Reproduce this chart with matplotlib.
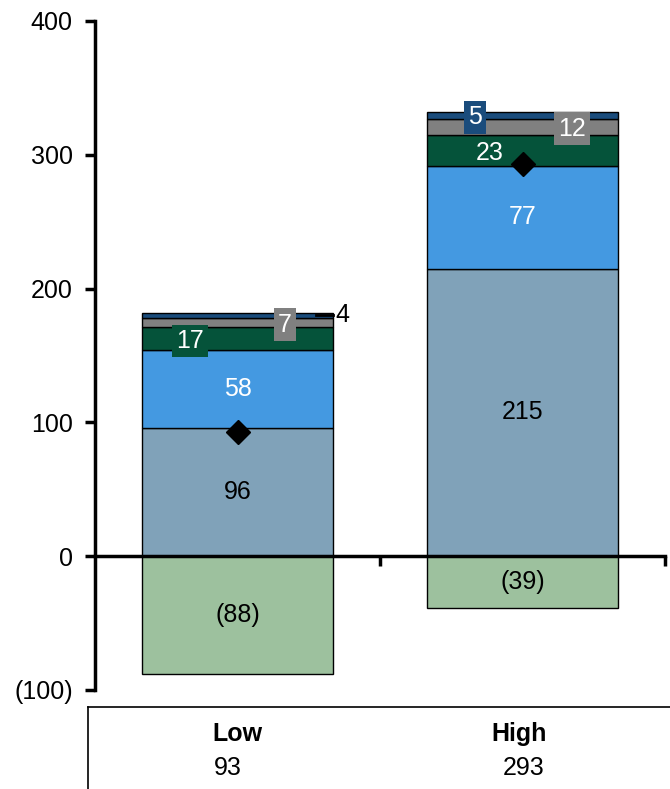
import matplotlib
matplotlib.use("Agg")
import matplotlib.pyplot as plt
import matplotlib.transforms as mtransforms

plt.rcParams['font.family'] = ['Liberation Sans', 'DejaVu Sans']

# Scenario data
categories = ["Low", "High"]
totals = [93, 293]
base_vals = [96, 215]
blue_vals = [58, 77]
green_vals = [17, 23]
grey_vals = [7, 12]
navy_vals = [4, 5]
neg_vals = [-88, -39]

segments = [
    (base_vals, "#80A2B9", "black"),
    (blue_vals, "#4499E1", "white"),
    (green_vals, "#05533A", "white"),
    (grey_vals, "#808080", "white"),
    (navy_vals, "#1A4C7C", "white"),
]

fig = plt.figure(figsize=(6.7, 7.89), dpi=100)
ax = fig.add_axes([95 / 670, 99 / 789, 570 / 670, 669 / 789])

xpos = [0.5, 1.5]
width = 0.667
fs = 18

bottoms = [0, 0]
seg_bounds = []
for vals, color, tcolor in segments:
    ax.bar(xpos, vals, width, bottom=bottoms, color=color,
           edgecolor="black", linewidth=1.0, zorder=2)
    seg_bounds.append([(b, b + v) for b, v in zip(bottoms, vals)])
    bottoms = [b + v for b, v in zip(bottoms, vals)]

ax.bar(xpos, neg_vals, width, color="#9DC19E", edgecolor="black",
       linewidth=1.0, zorder=2)

def mid(seg, i):
    lo, hi = seg_bounds[seg][i]
    return (lo + hi) / 2

# Large segment labels, centred in the bars
for i, x in enumerate(xpos):
    ax.text(x, mid(0, i), f"{base_vals[i]}", ha="center", va="center",
            fontsize=fs, color="black", zorder=4)
    ax.text(x, mid(1, i), f"{blue_vals[i]}", ha="center", va="center",
            fontsize=fs, color="white", zorder=4)
    ax.text(x, neg_vals[i] / 2, f"({abs(neg_vals[i])})", ha="center",
            va="center", fontsize=fs, color="black", zorder=4)

# Small segment labels (boxed, offset horizontally)
box = dict(boxstyle="square,pad=0.17", linewidth=0)
ax.text(xpos[0] - 0.167, mid(2, 0) - 1.5, f"{green_vals[0]}", ha="center",
        va="center", fontsize=fs, color="white", zorder=5,
        bbox=dict(box, facecolor=segments[2][1]))
ax.text(xpos[1] - 0.114, mid(2, 1) - 2, f"{green_vals[1]}", ha="center",
        va="center", fontsize=fs, color="white", zorder=5)
ax.text(xpos[0] + 0.167, mid(3, 0) - 1.5, f"{grey_vals[0]}", ha="center",
        va="center", fontsize=fs, color="white", zorder=5,
        bbox=dict(box, facecolor=segments[3][1]))
ax.text(xpos[1] + 0.174, mid(3, 1) - 1.5, f"{grey_vals[1]}", ha="center",
        va="center", fontsize=fs, color="white", zorder=5,
        bbox=dict(box, facecolor=segments[3][1]))
ax.text(xpos[1] - 0.167, mid(4, 1) - 1.5, f"{navy_vals[1]}", ha="center",
        va="center", fontsize=fs, color="white", zorder=5,
        bbox=dict(box, facecolor=segments[4][1]))

# Leader line for the thin top segment of the first bar
y4 = seg_bounds[4][0][1] - 1.5
ax.plot([0.775, 0.835], [y4, y4], color="black", linewidth=2, zorder=5,
        clip_on=False)
ax.text(0.845, y4, f"{navy_vals[0]}", ha="left", va="center",
        fontsize=fs, color="black", zorder=5)

# Total markers
ax.plot(xpos, totals, linestyle="none", marker="D", markersize=12,
        color="black", zorder=6)

ax.set_xlim(0, 2)
ax.set_ylim(-100, 400)
ax.set_yticks([-100, 0, 100, 200, 300, 400])
ax.set_yticklabels(["(100)", "0", "100", "200", "300", "400"])
ax.set_xticks([1, 2])
ax.set_xticklabels([])

for side in ("top", "right"):
    ax.spines[side].set_visible(False)
ax.spines["bottom"].set_position(("data", 0))
ax.spines["left"].set_linewidth(2.5)
ax.spines["bottom"].set_linewidth(2.5)
ax.spines["bottom"].set_zorder(3)
ax.tick_params(axis="y", direction="out", length=7, width=2.5,
               labelsize=fs, pad=9)
ax.tick_params(axis="x", direction="out", length=7, width=2.5)

# Summary table beneath the chart
tax = fig.add_axes([88 / 670, 0, 582 / 670, 82 / 789])
tax.set_xlim(0, 1)
tax.set_ylim(0, 1)
tax.set_xticks([])
tax.set_yticks([])
for side in ("right", "bottom"):
    tax.spines[side].set_visible(False)
tax.spines["left"].set_linewidth(1.2)
tax.spines["top"].set_linewidth(1.2)

name_shift = [0.0, -0.012]
total_shift = [-0.035, 0.003]
trans = mtransforms.blended_transform_factory(ax.transData, tax.transAxes)
for i, x in enumerate(xpos):
    tax.text(x + name_shift[i], 0.67, categories[i], transform=trans,
             ha="center", va="center", fontsize=fs, fontweight="bold")
    tax.text(x + total_shift[i], 0.26, f"{totals[i]}", transform=trans,
             ha="center", va="center", fontsize=fs)

fig.savefig("out.png", dpi=100)
